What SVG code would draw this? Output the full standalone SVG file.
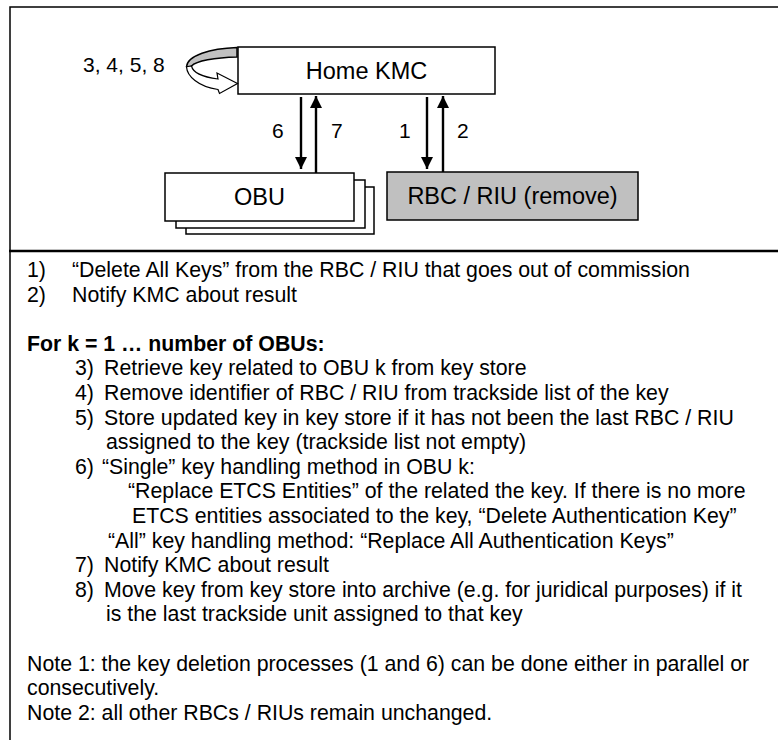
<svg xmlns="http://www.w3.org/2000/svg" width="778" height="740" viewBox="0 0 778 740">
<defs>
<style>
.frame{fill:#fff;stroke:#000;stroke-width:1.5}
.box{fill:#fff;stroke:#000;stroke-width:1.5}
.grey{fill:#c0c0c0;stroke:#000;stroke-width:1.5}
.lbl{font-family:"Liberation Sans",Arial,sans-serif;font-size:23.5px;fill:#000;text-anchor:middle}
.num{font-family:"Liberation Sans",Arial,sans-serif;font-size:21px;fill:#000}
.t{font-family:"Liberation Sans",Arial,sans-serif;font-size:21.3px;fill:#000}
.b{font-weight:bold}
.conn{stroke:#000;stroke-width:2.4;fill:none;marker-end:url(#ah)}
</style>
<marker id="ah" viewBox="0 0 10 10" refX="10" refY="5" markerUnits="userSpaceOnUse" markerWidth="14" markerHeight="12" orient="auto">
<path d="M0,0 L10,5 L0,10 Z" fill="#000"/>
</marker>
</defs>
<rect width="778" height="740" fill="#fff"/>
<g id="frames">
<rect class="frame" x="10" y="7" width="790" height="244"/>
<rect class="frame" x="10" y="251" width="790" height="520"/>
<line x1="9" y1="251" x2="790" y2="251" stroke="#000" stroke-width="2.5"/>
</g>
<g id="home-kmc">
<rect class="box" x="238" y="47" width="257" height="47"/>
<text class="lbl" x="366.5" y="78.5">Home KMC</text>
</g>
<g id="obu">
<rect class="box" x="186" y="187" width="188" height="47"/>
<rect class="box" x="176" y="180" width="189" height="48"/>
<rect class="box" x="165" y="173" width="189" height="48"/>
<text class="lbl" x="259.5" y="205">OBU</text>
</g>
<g id="rbc-riu">
<rect class="grey" x="387" y="172" width="251" height="48"/>
<text class="lbl" x="512.5" y="204">RBC / RIU (remove)</text>
</g>
<g id="connectors">
<g id="self-loop">
<path class="grey" stroke-width="1.2" d="M237,47.5 C210,48.5 187.5,55.5 186.5,66.7 C188,68.5 190,68.5 191.5,66 C196,61 215,57.5 237,57 Z"/>
<path fill="#fff" stroke="#000" stroke-width="1.2" d="M186.5,66.7 C187,76 198,86.5 218,89.5 L219.5,93.5 L237.5,83.5 L217,73 L218,79 C203,77 193,73 191.5,66 Z"/>
</g>
<line class="conn" x1="301" y1="97" x2="301" y2="169"/>
<line class="conn" x1="316" y1="173" x2="316" y2="96"/>
<line class="conn" x1="427" y1="97" x2="427" y2="169"/>
<line class="conn" x1="443" y1="172" x2="443" y2="96"/>
<text class="num" x="83" y="72">3, 4, 5, 8</text>
<text class="num" x="272" y="138">6</text>
<text class="num" x="331" y="138">7</text>
<text class="num" x="399" y="138">1</text>
<text class="num" x="457" y="138">2</text>
</g>
<g id="description">
<text class="t" x="27" y="277">1)</text>
<text class="t" x="72" y="277">“Delete All Keys” from the RBC / RIU that goes out of commission</text>
<text class="t" x="27" y="301.6">2)</text>
<text class="t" x="72" y="301.6">Notify KMC about result</text>
<text class="t b" x="27" y="350.8">For k = 1 … number of OBUs:</text>
<text class="t" x="75" y="375.4">3)</text>
<text class="t" x="104" y="375.4">Retrieve key related to OBU k from key store</text>
<text class="t" x="75" y="400">4)</text>
<text class="t" x="104" y="400">Remove identifier of RBC / RIU from trackside list of the key</text>
<text class="t" x="75" y="424.6">5)</text>
<text class="t" x="104" y="424.6">Store updated key in key store if it has not been the last RBC / RIU</text>
<text class="t" x="106" y="449.2">assigned to the key (trackside list not empty)</text>
<text class="t" x="75" y="473.8">6)</text>
<text class="t" x="102" y="473.8">“Single” key handling method in OBU k:</text>
<text class="t" x="128" y="498.4">“Replace ETCS Entities” of the related the key. If there is no more</text>
<text class="t" x="132" y="523">ETCS entities associated to the key, “Delete Authentication Key”</text>
<text class="t" x="108" y="547.6">“All” key handling method: “Replace All Authentication Keys”</text>
<text class="t" x="75" y="572.2">7)</text>
<text class="t" x="104" y="572.2">Notify KMC about result</text>
<text class="t" x="75" y="596.8">8)</text>
<text class="t" x="104" y="596.8">Move key from key store into archive (e.g. for juridical purposes) if it</text>
<text class="t" x="106" y="621.4">is the last trackside unit assigned to that key</text>
<text class="t" x="27" y="670.6">Note 1: the key deletion processes (1 and 6) can be done either in parallel or</text>
<text class="t" x="27" y="695.2">consecutively.</text>
<text class="t" x="27" y="719.8">Note 2: all other RBCs / RIUs remain unchanged.</text>
</g>
</svg>
